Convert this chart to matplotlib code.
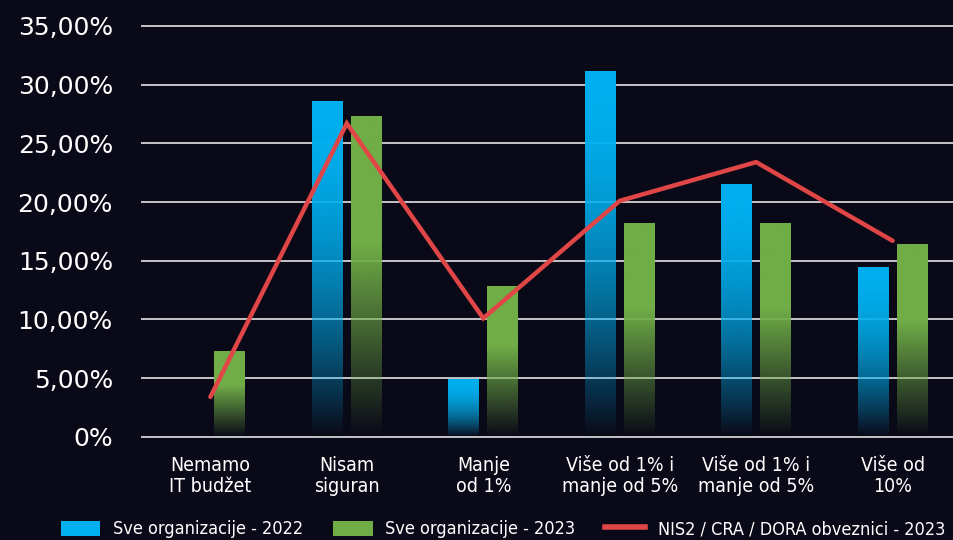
import numpy as np
import matplotlib.pyplot as plt
from matplotlib.patches import Patch
from matplotlib.lines import Line2D
from matplotlib.colors import to_rgb

# Podaci
kategorije = ["Nemamo\nIT budžet", "Nisam\nsiguran", "Manje\nod 1%",
              "Više od 1% i\nmanje od 5%", "Više od 1% i\nmanje od 5%", "Više od\n10%"]
sve_2022 = [0.0, 28.6, 4.9, 31.1, 21.5, 14.4]
sve_2023 = [7.3, 27.3, 12.8, 18.2, 18.2, 16.4]
nis2_2023 = [3.4, 26.7, 10.1, 20.1, 23.4, 16.7]
y_ticks = [0, 5, 10, 15, 20, 25, 30, 35]
y_labels = ["0%", "5,00%", "10,00%", "15,00%", "20,00%", "25,00%", "30,00%", "35,00%"]

pozadina = "#0a0917"
plava = "#00b0f0"
zelena = "#70ad47"
crvena = "#e04646"

fig = plt.figure(figsize=(9.54, 5.4), dpi=100, facecolor=pozadina)
ax = fig.add_axes([0.149, 0.191, 0.851, 0.761])
ax.set_facecolor(pozadina)

sirina = 0.227
pomak = 0.143
x = np.arange(len(kategorije))


def gradijent_stupac(xc, visina, boja, alpha_fn):
    if visina <= 0:
        return
    t = np.linspace(0, 1, 256)
    rgba = np.zeros((256, 1, 4))
    rgba[:, 0, :3] = to_rgb(boja)
    rgba[:, 0, 3] = alpha_fn(t)
    ax.imshow(rgba, extent=[xc - sirina / 2, xc + sirina / 2, 0, visina],
              origin="lower", aspect="auto", zorder=2, interpolation="bilinear")


for i in range(len(kategorije)):
    gradijent_stupac(x[i] - pomak, sve_2022[i], plava, lambda t: 1 - (1 - t) ** 2)
    gradijent_stupac(x[i] + pomak, sve_2023[i], zelena, lambda t: np.clip(t / 0.6, 0, 1))

ax.plot(x, nis2_2023, color=crvena, linewidth=3.2, zorder=4,
        solid_capstyle="round", solid_joinstyle="miter")

# Mreža
for yv in y_ticks:
    ax.axhline(yv, color="#c4c4c8", linewidth=1.4, zorder=1, clip_on=False)

ax.set_xlim(-0.5, 5.45)
ax.set_ylim(0, 35)
ax.set_yticks(y_ticks)
ax.set_yticklabels(y_labels, fontsize=18, color="white", family="DejaVu Sans")
ax.set_xticks(x)
ax.set_xticklabels(kategorije, fontsize=14, color="white", family="DejaVu Sans",
                   stretch="condensed", linespacing=1.1)
ax.tick_params(axis="y", length=0, pad=21)
ax.tick_params(axis="x", length=0, pad=14)
for s in ax.spines.values():
    s.set_visible(False)

# Legenda
rucke = [Patch(facecolor=plava), Patch(facecolor=zelena),
         Line2D([0], [0], color=crvena, linewidth=4)]
natpisi = ["Sve organizacije - 2022", "Sve organizacije - 2023",
           "NIS2 / CRA / DORA obveznici - 2023"]
leg = fig.legend(rucke, natpisi, loc="lower center", bbox_to_anchor=(0.527, -0.027),
                 ncol=3, frameon=False, handlelength=2.2, handleheight=0.9,
                 columnspacing=1.65, handletextpad=0.7,
                 prop={"family": "DejaVu Sans", "stretch": "condensed", "size": 13})
for tekst in leg.get_texts():
    tekst.set_color("white")

fig.savefig("out.png", facecolor=pozadina)
